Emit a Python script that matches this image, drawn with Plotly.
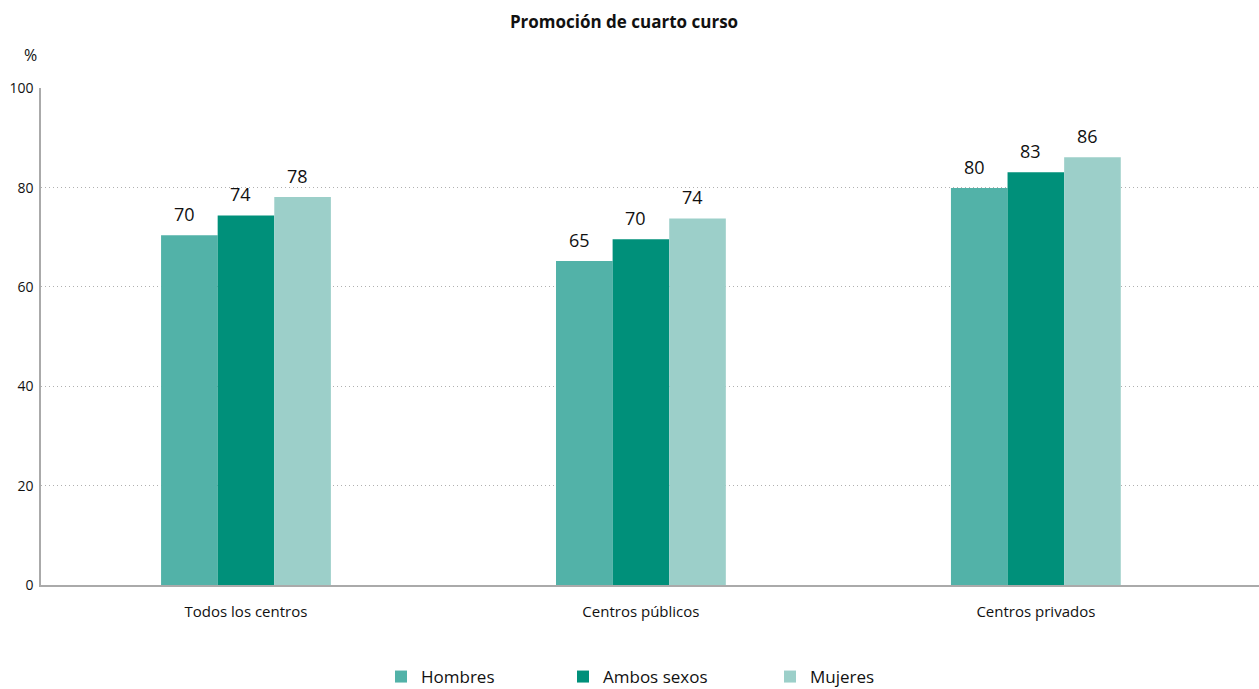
import plotly.graph_objects as go

categories = ["Todos los centros", "Centros públicos", "Centros privados"]
hombres = [70.4, 65.2, 79.9]
ambos = [74.4, 69.6, 83.1]
mujeres = [78.1, 73.8, 86.1]
series_names = ["Hombres", "Ambos sexos", "Mujeres"]
colors = ["#52b2a8", "#00907a", "#9ccfc9"]
y_ticks = [0, 20, 40, 60, 80, 100]

FONT = "Open Sans"
L, R, T, B = 41, 0, 88, 104
PW, PH = 1259 - L - R, 689 - T - B
BARGAP = 0.57
X_RANGE = [-0.519, 2.565]
px_per_cat = PW / (X_RANGE[1] - X_RANGE[0])
bar_w_px = px_per_cat * (1 - BARGAP) / 3

fig = go.Figure()
legends = ["legend", "legend2", "legend3"]
annotations = []
for i, (name, vals, col, lg) in enumerate(zip(series_names, [hombres, ambos, mujeres], colors, legends)):
    fig.add_trace(go.Bar(
        x=categories, y=vals, name=name, marker=dict(color=col, line=dict(width=0)),
        legend=lg,
    ))
    for c, v in zip(categories, vals):
        annotations.append(dict(
            x=c, y=v, xref="x", yref="y", text=f"{v:.0f}", showarrow=False,
            xanchor="center", yanchor="middle", xshift=(i - 1) * bar_w_px - 5, yshift=21,
            font=dict(size=18, color="#111111", family=FONT)))

annotations.append(dict(text="%", xref="paper", yref="paper", x=-11 / PW, y=1 + (T - 55) / PH,
                        xanchor="center", yanchor="middle", showarrow=False,
                        font=dict(size=16, color="#111111", family=FONT)))

leg_common = dict(orientation="h", yanchor="middle", xanchor="left",
                  font=dict(size=17, color="#111111", family=FONT),
                  bgcolor="rgba(0,0,0,0)", itemwidth=30)
leg_y = -(677 - (T + PH)) / PH
fig.update_layout(
    width=1259, height=689,
    margin=dict(l=L, r=R, t=T, b=B, autoexpand=False),
    plot_bgcolor="white", paper_bgcolor="white",
    barmode="group", bargap=BARGAP, bargroupgap=0,
    title=dict(text="<b>Promoción de cuarto curso</b>", x=624 / 1259, xanchor="center",
               y=1 - 22 / 689, yanchor="middle", font=dict(size=17, color="#111111", family=FONT)),
    legend=dict(x=(381 - L) / PW, y=leg_y, **leg_common),
    legend2=dict(x=(563 - L) / PW, y=leg_y, **leg_common),
    legend3=dict(x=(770 - L) / PW, y=leg_y, **leg_common),
    showlegend=True,
    xaxis=dict(range=X_RANGE, showline=True, linecolor="#aaaaaa", linewidth=1.5, ticks="",
               tickfont=dict(size=15, color="#111111", family=FONT), ticklabelstandoff=12),
    yaxis=dict(range=[0, 100.05], tickvals=y_ticks, showline=True, linecolor="#aaaaaa", linewidth=1.5,
               showgrid=True, gridcolor="#b0b0b0", griddash="1px,3px", gridwidth=1, zeroline=False,
               tickfont=dict(size=14, color="#111111", family=FONT), ticks="", ticklabelstandoff=3),
    annotations=annotations,
)
fig.write_html("out.html", config={"displayModeBar": False},
               post_script="document.body.style.margin='0';")
